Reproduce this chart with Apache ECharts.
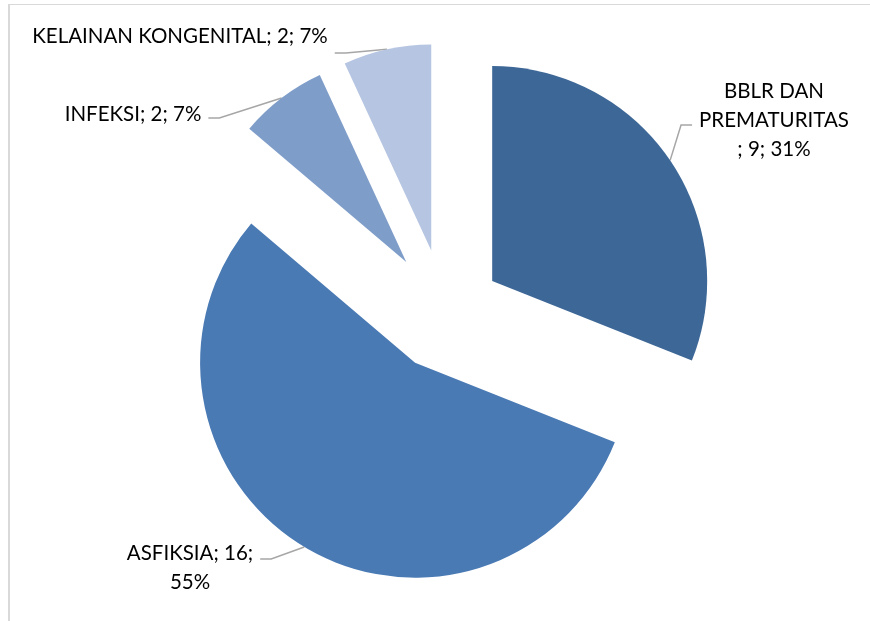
<!DOCTYPE html>
<html>
<head>
    <meta charset="utf-8">
    <title>Penyebab Kematian</title>
    <style>
        body { margin: 0; background: #fff; }
        #wrap { position: relative; width: 870px; height: 621px; }
        #frame { position: absolute; left: 8px; top: 4px; right: 0; bottom: 0;
                 border-top: 1px solid #D9D9D9; border-left: 2px solid #D9D9D9; }
        #container { position: absolute; left: 0; top: 0; width: 870px; height: 621px; }
    </style>
</head>
<body>
<div id="wrap">
    <div id="frame"></div>
    <div id="container"></div>
</div>

<script src="https://cdn.jsdelivr.net/npm/echarts@6/dist/echarts.min.js"></script>
<script type="text/javascript">
    var categories = ['BBLR DAN PREMATURITAS', 'ASFIKSIA', 'INFEKSI', 'KELAINAN KONGENITAL'];
    var values = [9, 16, 2, 2];
    var colors = ['#3D6797', '#4A7AB4', '#7F9DC9', '#B6C5E1'];

    // layout only: pie centre, slice radius, how far each slice is pulled out, label spots
    var pieCenter = [445, 313];
    var radii = [215, 215, 206, 206];
    var explode = [57, 58, 64, 64];
    var labelPos = [[774, 120], [190, 568], [133, 114], [180, 36]];
    var leaderY = [125, 559, 118, 53];

    function labelText(p) {
        if (p.dataIndex === 0) return 'BBLR DAN\nPREMATURITAS\n; ' + p.value + '; ' + p.percent + '%';
        if (p.dataIndex === 1) return p.name + '; ' + p.value + ';\n' + p.percent + '%';
        return p.name + '; ' + p.value + '; ' + p.percent + '%';
    }

    var total = values.reduce(function (a, b) { return a + b; }, 0);

    var myChart = echarts.init(document.getElementById('container'));

    function placeLabel(params) {
        var i = params.dataIndex;
        var pos = labelPos[i];
        var out = { x: pos[0], y: pos[1], align: 'center', verticalAlign: 'middle' };
        var pts = params.labelLinePoints;
        if (pts && pts.length) {
            var start = pts[0];
            var half = params.labelRect.width / 2;
            var dir = start[0] > pos[0] ? 1 : -1;
            var endX = pos[0] + dir * (half + 7);
            out.labelLinePoints = [
                [start[0], start[1]],
                [endX + dir * 11, leaderY[i]],
                [endX, leaderY[i]]
            ];
        }
        return out;
    }

    // one pie per slice, every pie holds the full data so angles stay the same,
    // only its own slice is painted; its centre is pushed out along that slice's bisector
    var series = [];
    var before = 0;
    categories.forEach(function (cat, i) {
        var mid = (before + values[i] / 2) / total * Math.PI * 2;
        before += values[i];
        series.push({
            type: 'pie',
            center: [pieCenter[0] + explode[i] * Math.sin(mid), pieCenter[1] - explode[i] * Math.cos(mid)],
            radius: radii[i],
            startAngle: 90,
            clockwise: true,
            percentPrecision: 0,
            avoidLabelOverlap: false,
            silent: true,
            emphasis: { disabled: true },
            itemStyle: { borderWidth: 0, borderRadius: 0 },
            data: categories.map(function (name, j) {
                return {
                    name: name,
                    value: values[j],
                    itemStyle: { color: j === i ? colors[j] : 'rgba(0,0,0,0)' },
                    label: { show: j === i },
                    labelLine: { show: j === i }
                };
            }),
            label: {
                position: 'outside',
                formatter: labelText,
                fontFamily: 'Lato',
                fontSize: 20.5,
                lineHeight: 29,
                color: '#000',
                align: 'center'
            },
            labelLine: {
                length: 15,
                length2: 10,
                lineStyle: { color: '#A6A6A6', width: 1.5 }
            },
            labelLayout: placeLabel
        });
    });

    myChart.setOption({ animation: false, series: series });
</script>
</body>
</html>
